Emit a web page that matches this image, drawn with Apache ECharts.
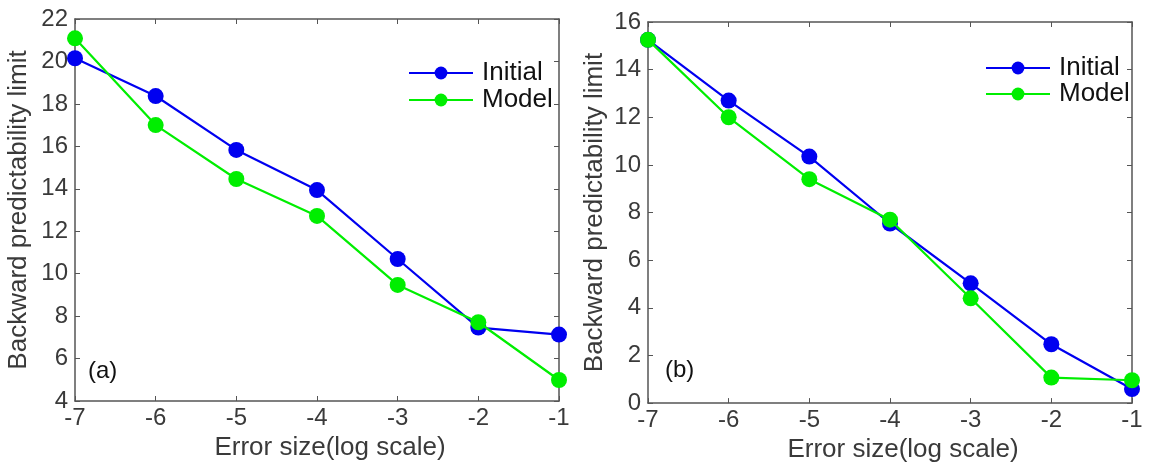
<!DOCTYPE html>
<html>
<head>
<meta charset="utf-8">
<script src="https://cdn.jsdelivr.net/npm/echarts@6/dist/echarts.min.js"></script>
<style>
html, body { margin: 0; padding: 0; background: #fff; }
#chart { width: 1150px; height: 468px; }
</style>
</head>
<body>
<div id="chart"></div>
<script>
// error size (log10)
const errorSizes = [-7, -6, -5, -4, -3, -2, -1];

// panel (a)
const initialA = [20.15, 18.37, 15.83, 13.94, 10.69, 7.46, 7.13];
const modelA = [21.09, 17.0, 14.46, 12.72, 9.47, 7.71, 4.99];

// panel (b)
const initialB = [15.25, 12.7, 10.35, 7.54, 5.03, 2.47, 0.59];
const modelB = [15.25, 12.0, 9.4, 7.7, 4.4, 1.07, 0.96];

const seriesNames = ["Initial", "Model"];
const colors = ["#0000f0", "#00ee00"];
const panelLabels = ["(a)", "(b)"];

const FONT = "Liberation Sans, Arial, sans-serif";
const axisCol = "#555";
const textCol = "#3a3a3a";

function pairs(vals) {
    return errorSizes.map((x, i) => [x, vals[i]]);
}

function xAxisCfg(gridIndex, bottom) {
    return {
        type: "value",
        gridIndex: gridIndex,
        position: bottom ? "bottom" : "top",
        min: -7,
        max: -1,
        interval: 1,
        name: bottom ? "Error size(log scale)" : "",
        nameLocation: "middle",
        nameGap: 33,
        nameTextStyle: { color: textCol, fontSize: 26, fontFamily: FONT, padding: [0, 0, 0, 26] },
        axisLine: { show: true, onZero: false, lineStyle: { color: axisCol, width: 1.5 } },
        axisTick: { show: true, inside: true, length: 5, lineStyle: { color: axisCol } },
        axisLabel: { show: bottom, color: textCol, fontSize: 24, fontFamily: FONT, margin: 5 },
        splitLine: { show: false }
    };
}

function yAxisCfg(gridIndex, left, min, max, gap) {
    return {
        type: "value",
        gridIndex: gridIndex,
        position: left ? "left" : "right",
        min: min,
        max: max,
        interval: 2,
        name: left ? "Backward predictability limit" : "",
        nameLocation: "middle",
        nameGap: gap,
        nameTextStyle: { color: textCol, fontSize: 26, fontFamily: FONT },
        axisLine: { show: true, onZero: false, lineStyle: { color: axisCol, width: 1.5 } },
        axisTick: { show: true, inside: true, length: 5, lineStyle: { color: axisCol } },
        axisLabel: { show: left, color: textCol, fontSize: 24, fontFamily: FONT, margin: 7 },
        splitLine: { show: false }
    };
}

function lineSeries(name, color, vals, idx) {
    return {
        name: name,
        type: "line",
        xAxisIndex: idx,
        yAxisIndex: idx * 2,
        data: pairs(vals),
        symbol: "circle",
        symbolSize: 16,
        lineStyle: { color: color, width: 2.2 },
        itemStyle: { color: color },
        emphasis: { disabled: true },
        z: name === "Model" ? 3 : 2
    };
}

function legendCfg(left, top, gap) {
    return {
        left: left, top: top, orient: "vertical",
        itemWidth: 64, itemHeight: 16, itemGap: gap,
        textStyle: { color: "#111", fontSize: 26, lineHeight: 22, fontFamily: FONT, padding: [0, 0, 0, 4] },
        data: seriesNames,
        selectedMode: false
    };
}

const chart = echarts.init(document.getElementById("chart"));

const option = {
    backgroundColor: "#fff",
    animation: false,
    grid: [
        { left: 75, top: 19, width: 484, height: 382 },
        { left: 648, top: 22, width: 484, height: 382 }
    ],
    xAxis: [
        xAxisCfg(0, true),
        xAxisCfg(1, true),
        xAxisCfg(0, false),
        xAxisCfg(1, false)
    ],
    yAxis: [
        yAxisCfg(0, true, 4, 22, 43),
        yAxisCfg(0, false, 4, 22, 43),
        yAxisCfg(1, true, 0, 16, 40),
        yAxisCfg(1, false, 0, 16, 40)
    ],
    legend: [
        legendCfg(403, 55, 1),
        legendCfg(980, 50, 0)
    ],
    graphic: [
        { type: "text", left: 88, top: 359, style: { text: panelLabels[0], fill: "#111", fontSize: 24, fontFamily: FONT } },
        { type: "text", left: 665, top: 358, style: { text: panelLabels[1], fill: "#111", fontSize: 24, fontFamily: FONT } }
    ],
    series: [
        lineSeries(seriesNames[0], colors[0], initialA, 0),
        lineSeries(seriesNames[1], colors[1], modelA, 0),
        lineSeries(seriesNames[0], colors[0], initialB, 1),
        lineSeries(seriesNames[1], colors[1], modelB, 1)
    ]
};

chart.setOption(option);
</script>
</body>
</html>
